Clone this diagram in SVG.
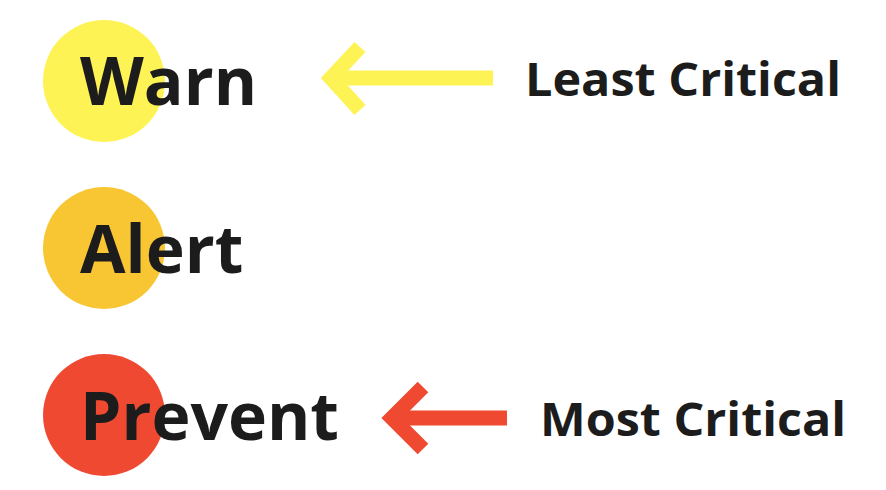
<svg xmlns="http://www.w3.org/2000/svg" width="886" height="490" viewBox="0 0 886 490">
<style>
.t{font-family:"Open Sans",sans-serif;font-weight:bold;fill:#1c1c1c}
.big{font-size:66px}
.lab{font-size:46px}
.a{fill:none;stroke-width:15;stroke-linecap:butt}
</style>
<rect width="886" height="490" fill="#fff"/>
<g id="warn"><circle cx="104" cy="81" r="61" fill="#fef354"/><text class="t big" x="80" y="105">Warn</text></g>
<g id="alert"><circle cx="104" cy="248" r="61" fill="#f9c633"/><text class="t big" x="80" y="273">Alert</text></g>
<g id="prevent"><circle cx="104" cy="415" r="61" fill="#ef4a31"/><text class="t big" x="80" y="440">Prevent</text></g>
<g id="connectors">
<g stroke="#fef354" class="a"><path d="M493 78H332"/><path d="M360 47L331 78L360 110"/></g>
<g stroke="#ef4a31" class="a"><path d="M507 418H392"/><path d="M423 387L392 418L423 449"/></g>
</g>
<g id="labels"><text class="t lab" x="525" y="96" textLength="316" lengthAdjust="spacingAndGlyphs">Least Critical</text><text class="t lab" x="540" y="436" textLength="306" lengthAdjust="spacingAndGlyphs">Most Critical</text></g>
</svg>
